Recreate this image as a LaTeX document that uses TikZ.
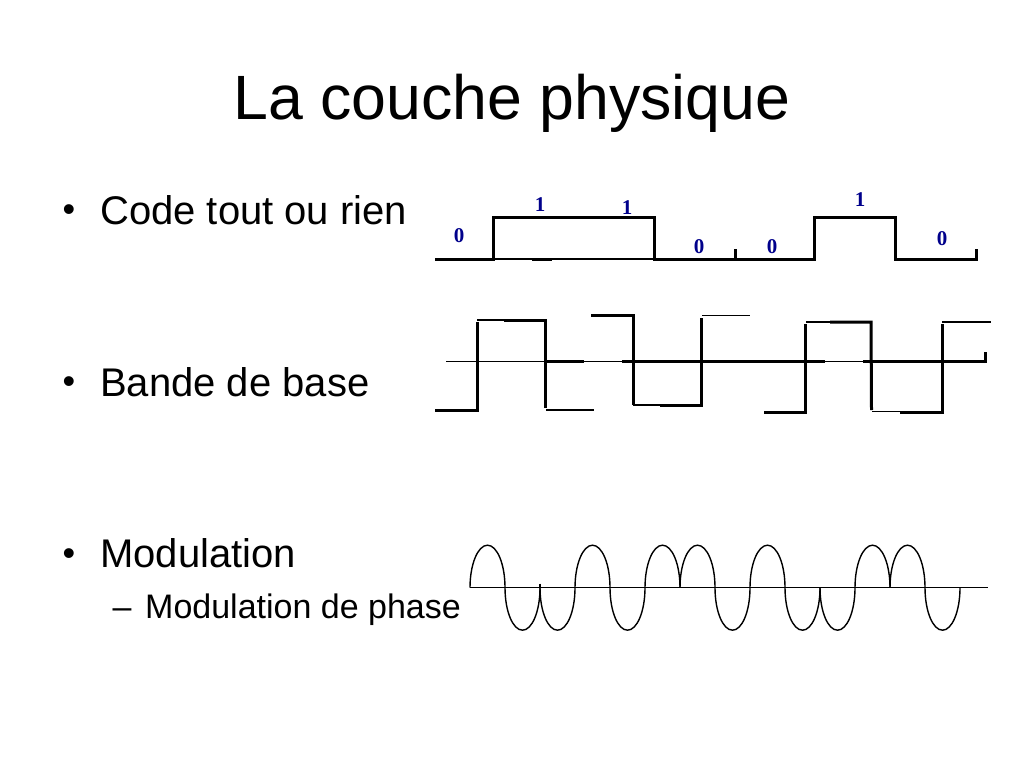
\documentclass[tikz,border=0pt]{standalone}
\usepackage{fontspec}
\setmainfont{Liberation Sans}
\newfontfamily\bitfont{Liberation Serif}
\definecolor{bitblue}{RGB}{0,0,139}
\begin{document}
\begin{tikzpicture}[
    x=1pt,
    y=-1pt,
    txt/.style={anchor=base west,inner sep=0pt,font=\fontsize{40}{48}\selectfont},
    subtxt/.style={anchor=base west,inner sep=0pt,font=\fontsize{34}{41}\selectfont},
    bit/.style={text=bitblue,inner sep=0pt,font=\bitfont\bfseries\fontsize{21}{25}\selectfont},
    thickline/.style={line width=3pt,line cap=butt,line join=miter},
    thinline/.style={line width=1.4pt,line cap=butt},
    wave/.style={line width=1.4pt},
]
    \useasboundingbox (0,0) rectangle (1024,768);
    \node (title) [anchor=base,inner sep=0pt,font=\fontsize{62.6}{74}\selectfont] at (512,119) {La couche physique};
    \node (bullet1) [txt,scale=0.9] at (62.5,221.5) {•};
    \node (code) [txt] at (100,224) {Code tout ou rien};
    \node (bullet2) [txt,scale=0.9] at (62.5,393.5) {•};
    \node (bande) [txt] at (100,396) {Bande de base};
    \node (bullet3) [txt,scale=0.9] at (62.5,565) {•};
    \node (modul) [txt] at (100,567) {Modulation};
    \node (dash) [subtxt] at (112.5,618) {–};
    \node (phase) [subtxt] at (145,618) {Modulation de phase};
    % tout ou rien
    \draw[thinline] (493.5,259) -- (654,259);
    \draw[thickline] (532,259) -- (552,259);
    \draw[thickline] (435,259) -- (493.5,259) -- (493.5,217.7) -- (654,217.7) -- (654,259) -- (735,259) -- (735,249);
    \draw[thickline] (735,259) -- (814,259) -- (814,217.7) -- (895,217.7) -- (895,259) -- (976,259) -- (976,249);
    \foreach \x/\y/\b in {459/236/0,540/205/1,627/208/1,699/247/0,772/247/0,860/200/1,942/239/0}
        \node (bit\x) [bit] at (\x,\y) {\b};
    % bande de base
    \draw[thinline] (446,361.7) -- (985,361.7);
    \foreach \a/\b in {545/584,622/825,863/985}
        \draw[thickline] (\a,361.7) -- (\b,361.7);
    \draw[thickline] (985,363) -- (985,352);
    \draw[thickline] (435,410) -- (477,410) -- (477,322);
    \draw[thinline] (477,320) -- (504,320);
    \draw[thickline] (504,320) -- (545,320) -- (545,408);
    \draw[thinline] (546,410) -- (594,410);
    \draw[thickline] (591,315.5) -- (633,315.5) -- (633,405);
    \draw[thinline] (633,405) -- (660,405);
    \draw[thickline] (660,405) -- (701.5,405) -- (701.5,318);
    \draw[thinline] (702,315.5) -- (750,315.5);
    \draw[thickline] (764,412) -- (805.5,412) -- (805.5,324);
    \draw[thinline] (806,322) -- (830,322);
    \draw[thickline] (830,322) -- (871,322) -- (871.5,410);
    \draw[thinline] (872,411.5) -- (900,411.5);
    \draw[thickline] (900,412) -- (942,412) -- (942,324);
    \draw[thinline] (942,322) -- (991,322);
    % modulation
    \draw[thinline] (470,587.7) -- (988,587.7);
    \draw[wave] (540,583.5) -- (540,587.7);
    \foreach \x/\s in {470/-1,505/1,540/1,575/-1,610/1,645/-1,680/-1,715/1,750/-1,785/1,820/1,855/-1,890/-1,925/1}
        \draw[wave] (\x,587.7) arc[start angle=180,end angle=0,x radius=17.5,y radius=\s*42.5];
\end{tikzpicture}
\end{document}
